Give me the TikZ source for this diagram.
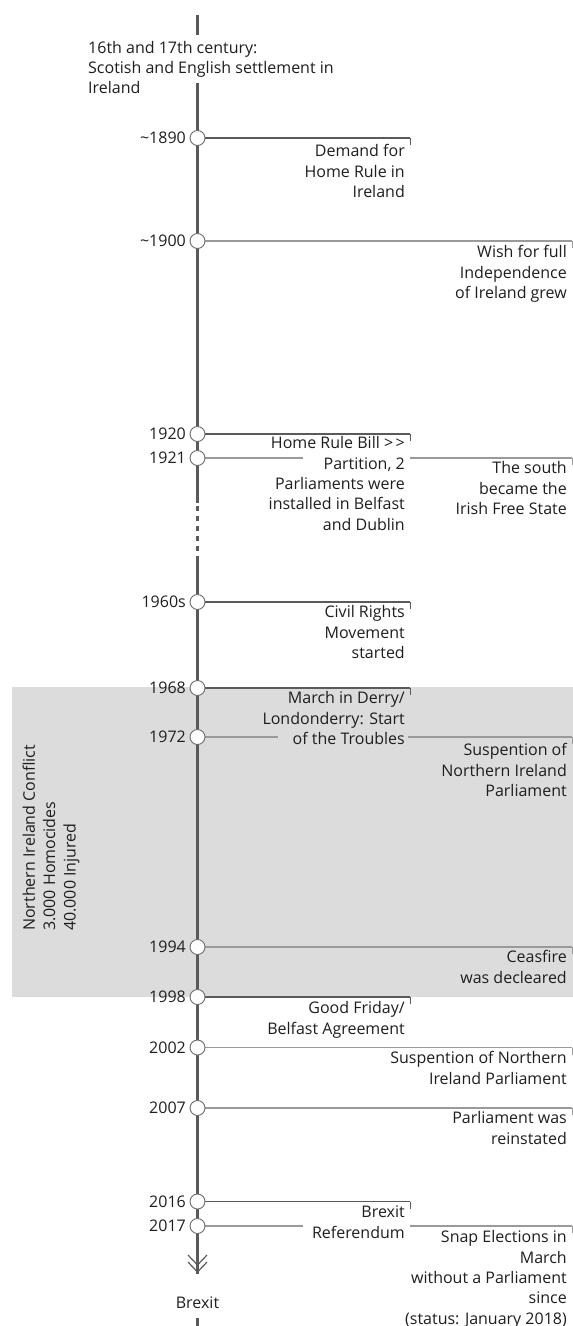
\documentclass[tikz,border=0pt]{standalone}
\usepackage{fontspec}
\setmainfont{Open Sans}
\definecolor{axiscol}{HTML}{5A5A5A}
\definecolor{lightln}{HTML}{9A9A9A}
\definecolor{shadecol}{HTML}{DCDCDC}
\definecolor{txtcol}{HTML}{1E1E1E}
\begin{document}
\begin{tikzpicture}[x=1pt,y=-1pt,
  axisline/.style={draw=axiscol,line width=3pt},
  darkln/.style={draw=axiscol,line width=1.8pt},
  lightln/.style={draw=lightln,line width=1.4pt},
  tickln/.style={line width=1pt},
  evdot/.style={circle,draw=axiscol!90,line width=0.9pt,fill=white,minimum size=15pt,inner sep=0pt},
  yearlbl/.style={anchor=base east,inner sep=0pt,text=txtcol,font=\fontsize{16}{20.3}\selectfont},
  evtext/.style={anchor=north east,align=right,inner sep=0pt,text=txtcol,font=\fontsize{16}{20.3}\selectfont},
  plain/.style={inner sep=0pt,text=txtcol,font=\fontsize{16}{20.3}\selectfont}
]
\useasboundingbox (0,0) rectangle (573,1326);
% shaded conflict period
\fill[shadecol] (12,687) rectangle (573,997);
\node[plain,rotate=90,anchor=north west,align=left] (conflict) at (20.5,931)
  {\strut Northern Ireland Conflict\\3.000 Homocides\\40.000 Injured};

% axis
\coordinate (a0) at (197.5,15);
\coordinate (a1) at (197.5,35);
\coordinate (a2) at (197.5,83);
\coordinate (a3) at (197.5,503);
\coordinate (a4) at (197.5,557);
\coordinate (a5) at (197.5,1274);
\coordinate (a6) at (197.5,1318);
\coordinate (a7) at (197.5,1326);
\draw[axisline] (a0) -- (a1);
\draw[axisline] (a2) -- (a3);
\draw[draw=axiscol,line width=2.4pt,dash pattern=on 5pt off 5pt] (a3) ++(0,3) -- (a4);
\draw[axisline] (a4) -- (a5);
\draw[axisline] (a6) -- (a7);

\node[plain,anchor=north west,align=left,font=\fontsize{16}{20}\selectfont] (intro) at (88,39.5)
  {\strut 16th and 17th century:\\Scotish and English settlement in\\Ireland};

% chevrons
\draw[draw=axiscol,line width=1.2pt] (188,1255) -- (197.5,1265) -- (207,1255);
\draw[draw=axiscol,line width=1.2pt] (188,1262) -- (197.5,1272) -- (207,1262);
\node[plain,anchor=base] (brexit) at (197.5,1308.7) {Brexit};

% ---- events ----
% ~1890
\coordinate (t1890) at (410,138);
\draw[darkln] (197.5,138) -- (t1890);
\draw[darkln,tickln] (t1890) -- ++(0,7);
\node[evdot] (c1890) at (197.5,138) {};
\node[yearlbl] (y1890) at (186,143.7) {\textasciitilde1890};
\node[evtext] (x1890) at (405,142.5) {\strut Demand for\\Home Rule in\\Ireland};

% ~1900
\coordinate (t1900) at (572,241);
\draw[lightln] (197.5,241) -- (t1900);
\draw[lightln,tickln] (t1900) -- ++(0,7);
\node[evdot] (c1900) at (197.5,241) {};
\node[yearlbl] (y1900) at (186,246.7) {\textasciitilde1900};
\node[evtext] (x1900) at (567,243.5) {\strut Wish for full\\Independence\\of Ireland grew};

% 1920
\coordinate (t1920) at (410,434);
\draw[darkln] (197.5,434) -- (t1920);
\draw[darkln,tickln] (t1920) -- ++(0,7);
% 1921
\coordinate (g1921a) at (303,458);
\coordinate (g1921b) at (410,458);
\coordinate (t1921) at (572,458);
\draw[lightln] (197.5,458) -- (g1921a);
\draw[lightln] (g1921b) -- (t1921);
\draw[lightln,tickln] (t1921) -- ++(0,7);
\node[evdot] (c1920) at (197.5,434) {};
\node[evdot] (c1921) at (197.5,458) {};
\node[yearlbl] (y1920) at (186,439.7) {1920};
\node[yearlbl] (y1921) at (186,463.7) {1921};
\node[evtext] (x1920) at (405,434.5) {\strut Home Rule Bill >\kern2.5pt>\\Partition, 2\\Parliaments were\\installed in Belfast\\and Dublin};
\node[evtext] (x1921) at (567,459.5) {\strut The south\\became the\\Irish Free State};

% 1960s
\coordinate (t1960) at (410,602);
\draw[darkln] (197.5,602) -- (t1960);
\draw[darkln,tickln] (t1960) -- ++(0,7);
\node[evdot] (c1960) at (197.5,602) {};
\node[yearlbl] (y1960) at (186,607.7) {1960s};
\node[evtext] (x1960) at (405,603.5) {\strut Civil Rights\\Movement\\started};

% 1968
\coordinate (t1968) at (410,688);
\draw[darkln] (197.5,688) -- (t1968);
\draw[darkln,tickln] (t1968) -- ++(0,7);
% 1972
\coordinate (g1972a) at (278,737);
\coordinate (g1972b) at (408,737);
\coordinate (t1972) at (572,737);
\draw[lightln] (197.5,737) -- (g1972a);
\draw[lightln] (g1972b) -- (t1972);
\draw[lightln,tickln] (t1972) -- ++(0,7);
\node[evdot] (c1968) at (197.5,688) {};
\node[evdot] (c1972) at (197.5,737) {};
\node[yearlbl] (y1968) at (186,693.7) {1968};
\node[yearlbl] (y1972) at (186,742.7) {1972};
\node[evtext] (x1968) at (405,689.5) {\strut March in Derry/\\Londonderry: Start\\of the Troubles};
\node[evtext] (x1972) at (567,741.5) {\strut Suspention of\\Northern Ireland\\Parliament};

% 1994
\coordinate (t1994) at (572,947);
\draw[lightln] (197.5,947) -- (t1994);
\draw[lightln,tickln] (t1994) -- ++(0,7);
\node[evdot] (c1994) at (197.5,947) {};
\node[yearlbl] (y1994) at (186,952.7) {1994};
\node[evtext] (x1994) at (567,948.5) {\strut Ceasfire\\was decleared};

% 1998
\coordinate (t1998) at (410,997);
\draw[darkln] (197.5,997) -- (t1998);
\draw[darkln,tickln] (t1998) -- ++(0,7);
\node[evdot] (c1998) at (197.5,997) {};
\node[yearlbl] (y1998) at (186,1002.7) {1998};
\node[evtext] (x1998) at (405,999.5) {\strut Good Friday/\\Belfast Agreement};

% 2002
\coordinate (t2002) at (572,1047.5);
\draw[lightln] (197.5,1047.5) -- (t2002);
\draw[lightln,tickln] (t2002) -- ++(0,7);
\node[evdot] (c2002) at (197.5,1047.5) {};
\node[yearlbl] (y2002) at (186,1053.2) {2002};
\node[evtext] (x2002) at (567,1049.5) {\strut Suspention of Northern\\Ireland Parliament};

% 2007
\coordinate (t2007) at (572,1108);
\draw[lightln] (197.5,1108) -- (t2007);
\draw[lightln,tickln] (t2007) -- ++(0,7);
\node[evdot] (c2007) at (197.5,1108) {};
\node[yearlbl] (y2007) at (186,1113.7) {2007};
\node[evtext] (x2007) at (567,1109.5) {\strut Parliament was\\reinstated};

% 2016
\coordinate (t2016) at (410,1201.5);
\draw[darkln] (197.5,1201.5) -- (t2016);
\draw[darkln,tickln] (t2016) -- ++(0,7);
% 2017
\coordinate (g2017a) at (303,1226);
\coordinate (g2017b) at (410,1226);
\coordinate (t2017) at (572,1226);
\draw[lightln] (197.5,1226) -- (g2017a);
\draw[lightln] (g2017b) -- (t2017);
\draw[lightln,tickln] (t2017) -- ++(0,7);
\node[evdot] (c2016) at (197.5,1201.5) {};
\node[evdot] (c2017) at (197.5,1226) {};
\node[yearlbl] (y2016) at (186,1207.2) {2016};
\node[yearlbl] (y2017) at (186,1231.7) {2017};
\node[evtext] (x2016) at (405,1203.5) {\strut Brexit\\Referendum};
\node[evtext] (x2017) at (567,1228.5) {\strut Snap Elections in\\March\\without a Parliament\\since\\(status: January 2018)};
\end{tikzpicture}
\end{document}
